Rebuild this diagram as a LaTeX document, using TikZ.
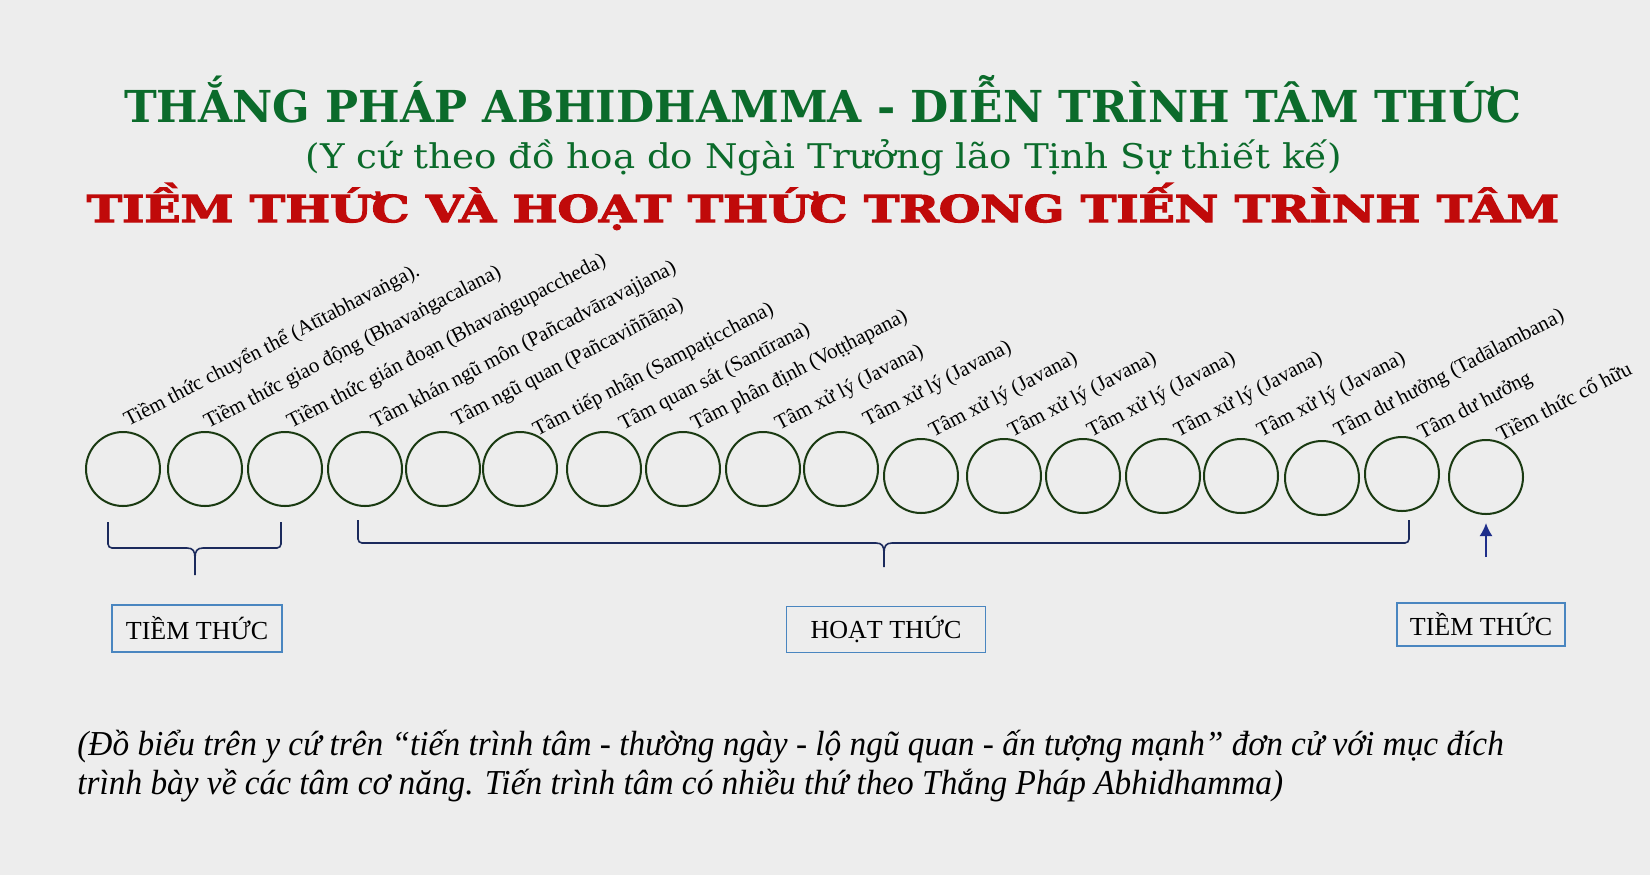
\documentclass[tikz,border=0pt]{standalone}
\usepackage{fontspec}
\setmainfont{Liberation Serif}
\newfontfamily\clarfont{DejaVu Serif}
\newfontfamily\heavyfont[FakeBold=3]{DejaVu Serif Bold}
\usepackage{graphicx}
\usepackage{tikz}
\usetikzlibrary{arrows.meta}
\tikzset{>={Latex[width=6.5pt,length=6.5pt]}}
\definecolor{paper}{HTML}{EDEDED}
\definecolor{titlegreen}{HTML}{0B6B2B}
\definecolor{titlered}{HTML}{C00A0A}
\definecolor{ringgreen}{HTML}{1A3A12}
\definecolor{bracenavy}{HTML}{1B2A5C}
\definecolor{boxblue}{HTML}{4A86C0}
\definecolor{arrowblue}{HTML}{1F2E8A}

\begin{document}
\begin{tikzpicture}[x=0.5pt,y=-0.5pt,
  ring/.style={circle,draw=ringgreen,line width=1pt,minimum size=37pt,inner sep=0pt},
  lbl/.style={anchor=base west,rotate=27.5,inner sep=0pt,
    font=\fontsize{10.5}{12}\selectfont},
  tag/.style={draw=boxblue,line width=0.7pt,inner sep=0pt,
    font=\fontsize{13}{15}\selectfont},
  brace/.style={draw=bracenavy,line width=0.8pt},
  note/.style={anchor=base west,inner sep=0pt,font=\itshape\fontsize{17.5}{20}\selectfont}]

  % paper
  \fill[paper] (0,0) rectangle (1650,875);
  \useasboundingbox (0,0) rectangle (1650,875);

  % headings
  \node[anchor=base,text=titlegreen,font=\clarfont\bfseries\fontsize{22}{26}\selectfont]
    (title) at (823,122) {THẮNG PHÁP ABHIDHAMMA - DIỄN TRÌNH TÂM THỨC};
  \node[anchor=base,text=titlegreen,font=\clarfont\fontsize{17}{20}\selectfont]
    (subtitle) at (824,168) {\scalebox{1.094}[1]{(Y cứ theo đồ hoạ do Ngài Trưởng lão Tịnh Sự thiết kế)}};
  \node[anchor=base,text=titlered,font=\heavyfont\fontsize{18.5}{22}\selectfont]
    (heading) at (823,222) {\scalebox{1.285}[1]{TIỀM THỨC VÀ HOẠT THỨC TRONG TIẾN TRÌNH TÂM}};

  % moments of mind
  \foreach \i/\x/\y in {1/123/469,2/205/469,3/285/469,4/365/469,5/443/469,
      6/520/469,7/604/469,8/683/469,9/763/469,10/841/469,11/921/476,
      12/1004/476,13/1083/476,14/1163/476,15/1241/476,16/1322/478,
      17/1402/474,18/1486/477}
    \node[ring] (c\i) at (\x,\y) {};

  \node[lbl] (l1) at (128,427) {Tiềm thức chuyển thể (Atītabhavaṅga).};
  \node[lbl] (l2) at (208,429) {Tiềm thức giao động (Bhavaṅgacalana)};
  \node[lbl] (l3) at (291,429) {Tiềm thức gián đoạn (Bhavaṅgupaccheda)};
  \node[lbl] (l4) at (375,429) {Tâm khán ngũ môn (Pañcadvāravajjana)};
  \node[lbl] (l5) at (456,427) {Tâm ngũ quan (Pañcaviññāṇa)};
  \node[lbl] (l6) at (537,437) {Tâm tiếp nhận (Sampaṭicchana)};
  \node[lbl] (l7) at (623,431) {Tâm quan sát (Santīrana)};
  \node[lbl] (l8) at (695,431) {Tâm phân định (Voṭṭhapana)};
  \node[lbl] (l9) at (779,431) {Tâm xử lý (Javana)};
  \node[lbl] (l10) at (867,427) {Tâm xử lý (Javana)};
  \node[lbl] (l11) at (933,438) {Tâm xử lý (Javana)};
  \node[lbl] (l12) at (1012,438) {Tâm xử lý (Javana)};
  \node[lbl] (l13) at (1091,438) {Tâm xử lý (Javana)};
  \node[lbl] (l14) at (1178,438) {Tâm xử lý (Javana)};
  \node[lbl] (l15) at (1261,438) {Tâm xử lý (Javana)};
  \node[lbl] (l16) at (1338,438) {Tâm dư hưởng (Tadālambana)};
  \node[lbl] (l17) at (1422,440) {Tâm dư hưởng};
  \node[lbl] (l18) at (1501,442) {Tiềm thức cố hữu};

  % braces
  \draw[brace] (108,522) [rounded corners=2pt] -- (108,548) [sharp corners]
    -- (187,548) .. controls (193,548) and (195,551) .. (195,558) -- (195,575);
  \draw[brace] (195,558) .. controls (195,551) and (197,548) .. (203,548)
    [rounded corners=2pt] -- (281,548) -- (281,522);
  \draw[brace] (358,520) [rounded corners=2pt] -- (358,543) [sharp corners]
    -- (876,543) .. controls (882,543) and (884,546) .. (884,553) -- (884,567);
  \draw[brace] (884,553) .. controls (884,546) and (886,543) .. (892,543)
    [rounded corners=2pt] -- (1409,543) -- (1409,520);

  % boxes
  \node[tag,minimum width=85pt,minimum height=23.5pt] (t1) at (197,628.5) {TIỀM THỨC};
  \node[tag,minimum width=99.5pt,minimum height=23pt] (t2) at (886,629.5) {HOẠT THỨC};
  \node[tag,minimum width=84pt,minimum height=21.5pt] (t3) at (1481,624.5) {TIỀM THỨC};

  \coordinate (up) at (1486,557);
  \draw[->,arrowblue,line width=0.9pt,shorten >=4pt] (up) -- (c18);

  % note
  \node[note] (n1) at (77,755) {\scalebox{0.952}[1]{(Đồ biểu trên y cứ trên “tiến trình tâm - thường ngày - lộ ngũ quan - ấn tượng mạnh” đơn cử với mục đích}};
  \node[note] (n2) at (77,794) {\scalebox{0.952}[1]{trình bày về các tâm cơ năng. Tiến trình tâm có nhiều thứ theo Thắng Pháp Abhidhamma)}};

\end{tikzpicture}
\end{document}
